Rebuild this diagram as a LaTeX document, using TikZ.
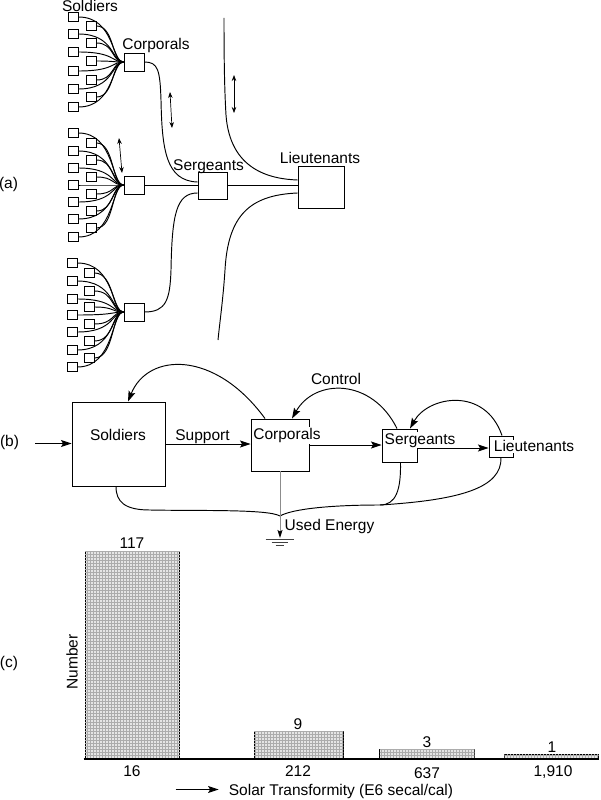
\documentclass[tikz,border=0pt]{standalone}
\usepackage{fontspec}
\setmainfont{Liberation Sans}
\usetikzlibrary{arrows.meta,patterns,calc}
\begin{document}
\begin{tikzpicture}[x=1pt,y=-1pt,
  font=\fontsize{15.5}{18}\selectfont,
  line width=0.95pt,
  sq/.style={draw, minimum width=10pt, minimum height=8.5pt, inner sep=0pt},
  box/.style={draw, inner sep=0pt},
  lbl/.style={inner sep=0pt, anchor=base},
  tl/.style={inner xsep=0.8pt, inner ysep=0.8pt, fill=white, anchor=base},
  arr/.style={-{Stealth[length=10.5pt,width=7pt,inset=2pt]}},
  darr/.style={{Stealth[length=6pt,width=4.5pt]}-{Stealth[length=6pt,width=4.5pt]}, line width=0.7pt},
  bar/.style={draw, line width=1.1pt, fill=gray!20, postaction={pattern=grid, pattern color=gray!65}, anchor=south west, inner sep=0pt}
]
\useasboundingbox (0,0) rectangle (600,800);

% ---------------- (a) ----------------
\node[inner sep=0pt] (ta) at (8.5,184) {(a)};
\node[lbl] (tSold) at (90,11.5) {Soldiers};
\node[lbl] (tCorp) at (156,50) {Corporals};
\node[lbl] (tSerg) at (208.5,170) {Sergeants};
\node[lbl] (tLieu) at (320,163) {Lieutenants};

\node[box, minimum width=20pt, minimum height=18pt] (cA) at (134,62) {};
\node[box, minimum width=20pt, minimum height=18pt] (cB) at (134,185) {};
\node[box, minimum width=20pt, minimum height=18pt] (cC) at (134,312) {};

\foreach \y [count=\i] in {17,34,52,71,89,107} {
  \node[sq] (sAl\i) at (73,\y) {};
  \draw (sAl\i.east) .. controls +(36,0) and +(-12,0) .. (cA.west);
}
\foreach \y [count=\i] in {26,43,61,80,97} {
  \node[sq] (sAr\i) at (91,\y) {};
  \draw (sAr\i.east) .. controls +(18,0) and +(-12,0) .. (cA.west);
}
\foreach \y [count=\i] in {133,151,168,185,202,219,237} {
  \node[sq] (sBl\i) at (73,\y) {};
  \draw (sBl\i.east) .. controls +(36,0) and +(-12,0) .. (cB.west);
}
\foreach \y [count=\i] in {143,160,177,194,211,228} {
  \node[sq] (sBr\i) at (91,\y) {};
  \draw (sBr\i.east) .. controls +(18,0) and +(-12,0) .. (cB.west);
}
\foreach \y [count=\i] in {263,281,299,315,332,350,367} {
  \node[sq] (sCl\i) at (72,\y) {};
  \draw (sCl\i.east) .. controls +(37,0) and +(-12,0) .. (cC.west);
}
\foreach \y [count=\i] in {273,291,307,324,341,358} {
  \node[sq] (sCr\i) at (89,\y) {};
  \draw (sCr\i.east) .. controls +(20,0) and +(-12,0) .. (cC.west);
}

\node[box, minimum width=29pt, minimum height=27pt] (S) at (212.5,185.5) {};
\node[box, minimum width=46pt, minimum height=42pt] (L) at (321,187) {};

\draw (cA.east) .. controls (158,62) and (160,70) .. (161,100)
      .. controls (162,150) and (166,181) .. ([yshift=3.5pt]S.west);
\draw (cB.east) -- (cB.east -| S.west);
\draw (cC.east) .. controls (166,312) and (170,300) .. (171,270)
      .. controls (172,215) and (176,193) .. ([yshift=-7.5pt]S.west);
\draw (S.east) -- (S.east -| L.west);

\coordinate (Ltop) at (224,18);
\coordinate (Lbot) at (218,340);
\draw (Ltop) .. controls (224,60) and (224.5,90) .. (226,115)
      .. controls (230,170) and (270,179) .. ([yshift=7pt]L.west);
\draw ([yshift=-6pt]L.west) .. controls (250,195) and (228,215) .. (225,270)
      .. controls (223,300) and (220,320) .. (Lbot);

\coordinate (d1a) at (170,92);  \coordinate (d1b) at (172,128);
\coordinate (d2a) at (234,75);  \coordinate (d2b) at (234,113);
\coordinate (d3a) at (119,138); \coordinate (d3b) at (122,173);
\draw[darr] (d1a) -- (d1b);
\draw[darr] (d2a) -- (d2b);
\draw[darr] (d3a) -- (d3b);

% ---------------- (b) ----------------
\node[inner sep=0pt] (tb) at (9.5,442.5) {(b)};
\node[box, minimum width=93pt, minimum height=84pt] (So) at (118.5,444) {};
\node[lbl] (tSo) at (118,440) {Soldiers};
\node[box, minimum width=58pt, minimum height=52pt] (Co) at (280,445) {};
\node[tl] (tCo) at (287,439.5) {Corporals};
\node[box, minimum width=35pt, minimum height=33pt] (Se) at (399.5,445.5) {};
\node[tl] (tSe) at (420,444) {Sergeants};
\node[box, minimum width=24pt, minimum height=21pt] (Li) at (501,446.5) {};
\node[tl] (tLi) at (534,451.7) {Lieutenants};

\coordinate (inB) at (35,443.5);
\draw[arr] (inB) -- (inB -| So.west);
\draw[arr] (So.east) -- (So.east -| Co.west);
\node[lbl] (tSup) at (202.5,440) {Support};
\draw[arr] (Co.east) -- (Co.east -| Se.west);
\draw[arr] ([yshift=-2.5pt]Se.east) -- ([yshift=-2.5pt]Se.east -| Li.west);

\draw[arr] ([xshift=-15pt]Co.north) .. controls (215,350) and (148,352) .. ([xshift=9.5pt]So.north);
\draw[arr] ([xshift=-2.5pt]Se.north) .. controls (372,378) and (315,378) .. ([xshift=12pt]Co.north);
\node[lbl] (tCtl) at (336,384) {Control};
\draw[arr] ([xshift=1pt]Li.north) .. controls (485,386) and (428,396) .. ([xshift=10.5pt]Se.north);

\coordinate (M) at (280,516);
\coordinate (J) at (380,505);
\draw ([xshift=-2.5pt]So.south) .. controls (116,502) and (125,510) .. (150,510)
      .. controls (200,511) and (268,509) .. (M);
\draw (J) .. controls (330,505) and (292,509) .. (M);
\draw ([xshift=1pt]Se.south) .. controls (401,490) and (396,505) .. (J);
\draw (Li.south) .. controls (502,488) and (460,500) .. (J);

\coordinate (G) at (280,538);
\draw[draw=black!45, -{Stealth[length=8pt,width=5pt,inset=1.5pt,color=black]}] (Co.south) -- (G);
\draw[line width=0.7pt, black!75] (265.7,539.5) -- (294.3,539.5);
\draw[line width=0.7pt, black!75] (271.7,542.8) -- (288.3,542.8);
\draw[line width=0.7pt, black!75] (275.7,545.6) -- (284.3,545.6);
\node[lbl] (tUE) at (329.5,530.7) {Used Energy};

% ---------------- (c) ----------------
\node[inner sep=0pt] (tc) at (9,663) {(c)};
\node[rotate=90, inner sep=0pt] (tNum) at (72,662) {Number};

\node[bar, minimum width=94.7pt, minimum height=206.7pt] (b1) at (84.6,759) {};
\node[bar, minimum width=89.3pt, minimum height=26.7pt] (b2) at (253.6,759) {};
\node[bar, minimum width=94.6pt, minimum height=8.7pt] (b3) at (379.3,759) {};
\node[bar, minimum width=94pt, minimum height=3.7pt] (b4) at (504,759) {};
\draw[line width=1.1pt] ([xshift=-1pt]b1.south west) -- (b4.south east);

\node[lbl] (v1) at (132,548) {117};
\node[lbl] (v2) at (298,729.5) {9};
\node[lbl] (v3) at (427,747) {3};
\node[lbl] (v4) at (552,752) {1};

\node[lbl] (x1) at (132,776) {16};
\node[lbl] (x2) at (298,776) {212};
\node[lbl] (x3) at (427,778) {637};
\node[lbl] (x4) at (553,776) {1,910};

\coordinate (sa) at (175.7,789.5);
\coordinate (sb) at (218.6,789.5);
\draw[arr] (sa) -- (sb);
\node[lbl] (tST) at (341,795.5) {Solar Transformity (E6 secal/cal)};
\end{tikzpicture}
\end{document}
